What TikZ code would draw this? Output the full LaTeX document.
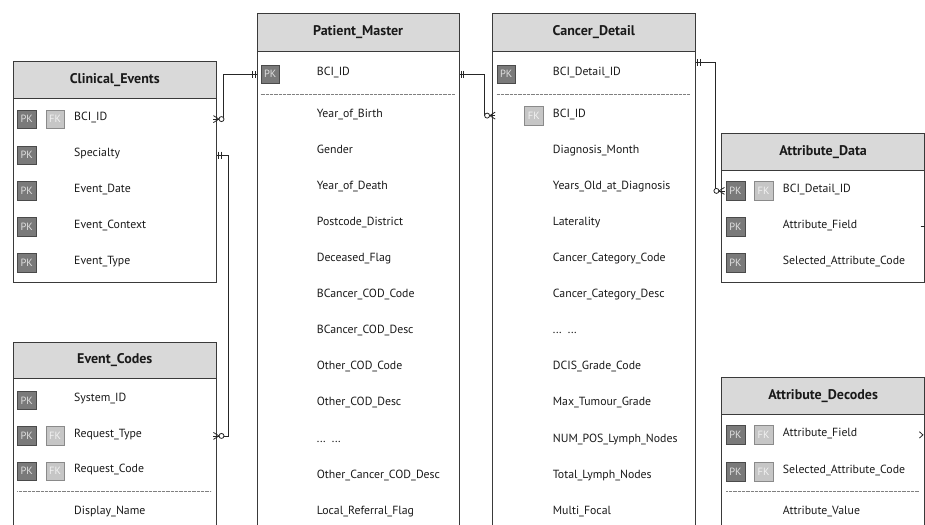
\documentclass[tikz,border=0pt]{standalone}
\usepackage{fontspec}
\setmainfont{PT Sans}
\usetikzlibrary{calc}
\definecolor{hdrfill}{HTML}{D9D9D9}
\definecolor{bord}{HTML}{3A3A3A}
\definecolor{pkfill}{HTML}{7A7A7A}
\definecolor{pkline}{HTML}{4A4A4A}
\definecolor{fkfill}{HTML}{C6C6C6}
\definecolor{fkline}{HTML}{8A8A8A}
\definecolor{txt}{HTML}{1A1A1A}
\newcommand\elidedrow{.\kern0.6pt.\kern0.6pt.\ \ .\kern0.6pt.\kern0.6pt.}
\tikzset{
  hdrbox/.style={draw=bord, fill=hdrfill, line width=0.9pt, anchor=north west,
    inner sep=0pt, font=\fontsize{14}{16}\selectfont\bfseries, text=txt},
  bodybox/.style={draw=bord, fill=white, line width=0.9pt, anchor=north west, inner sep=0pt},
  rowtext/.style={anchor=base west, inner sep=0pt, font=\fontsize{11.8}{14}\selectfont, text=txt},
  pkbadge/.style={draw=pkline, fill=pkfill, minimum size=18.5pt, inner sep=0pt,
    font=\fontsize{10.5}{11}\selectfont, text=white!88!black},
  fkbadge/.style={draw=fkline, fill=fkfill, minimum size=18.5pt, inner sep=0pt,
    font=\fontsize{10.5}{11}\selectfont, text=white!95!black},
  sepline/.style={draw=black!50, line width=0.5pt, dash pattern=on 0.5pt off 0.8pt},
  conn/.style={draw=black!85, line width=0.8pt},
  pics/zeromany/.style={code={
    \draw[conn] (-3.5,-3.5) -- (2,0) -- (-3.5,3.5);
    \draw[conn] (-3.5,0) -- (2,0);
    \draw[conn, fill=white] (4.6,0) circle[radius=2.5pt];}},
  pics/onlyone/.style={code={
    \draw[conn] (1.4,-3.5) -- (1.4,3.5) (4.2,-3.5) -- (4.2,3.5);}},
  pics/prongs/.style={code={
    \draw[conn] (-3.5,-3.2) -- (0,0) -- (-3.5,3.2);}}
}
\begin{document}
\begin{tikzpicture}[x=1pt, y=-1pt]
\useasboundingbox (0,0) rectangle (925,524);
\clip (0,0) rectangle (925,524);

% ---------------- Clinical_Events ----------------
\node[bodybox, minimum width=203.3pt, minimum height=184.6pt] (ce-b) at (12.7,97.7) {};
\node[hdrbox, minimum width=203.3pt, minimum height=37pt] (ce-h) at (12.7,60.7) {Clinical\_Events};
\foreach \t [count=\i] in {BCI\_ID, Specialty, Event\_Date, Event\_Context, Event\_Type} {
  \node[rowtext] (ce-r\i) at (74,{116.5+35.9*(\i-1)+4.2}) {\t};
  \node[pkbadge] (ce-p\i) at (26.7,{116.5+35.9*(\i-1)+2.6}) {PK};
}
\node[fkbadge] (ce-f1) at (55,119.1) {FK};

% ---------------- Event_Codes ----------------
\node[bodybox, minimum width=203.3pt, minimum height=200pt] (ec-b) at (12.7,378.3) {};
\node[hdrbox, minimum width=203.3pt, minimum height=36.6pt] (ec-h) at (12.7,341.7) {Event\_Codes};
\foreach \t/\yy [count=\i] in {System\_ID/397.7, Request\_Type/433.3, Request\_Code/468.6} {
  \node[rowtext] (ec-r\i) at (74,{\yy+4.2}) {\t};
  \node[pkbadge] (ec-p\i) at (26.7,{\yy+2.6}) {PK};
}
\node[fkbadge] (ec-f2) at (55,435.9) {FK};
\node[fkbadge] (ec-f3) at (55,471.2) {FK};
\coordinate (ec-s1) at (17.3,491.7);
\coordinate (ec-s2) at (211,491.7);
\draw[sepline] (ec-s1) -- (ec-s2);
\node[rowtext] (ec-r4) at (74,514.2) {Display\_Name};

% ---------------- Patient_Master ----------------
\node[bodybox, minimum width=202pt, minimum height=520pt] (pm-b) at (256.7,51) {};
\node[hdrbox, minimum width=202pt, minimum height=38.3pt] (pm-h) at (256.7,12.7) {Patient\_Master};
\node[rowtext] (pm-r0) at (316.7,75.9) {BCI\_ID};
\node[pkbadge] (pm-p0) at (270.2,74.2) {PK};
\coordinate (pm-s1) at (260.5,94.3);
\coordinate (pm-s2) at (455,94.3);
\draw[sepline] (pm-s1) -- (pm-s2);
\foreach \t [count=\i] in {Year\_of\_Birth, Gender, Year\_of\_Death, Postcode\_District,
  Deceased\_Flag, BCancer\_COD\_Code, BCancer\_COD\_Desc, Other\_COD\_Code,
  Other\_COD\_Desc, {\elidedrow}, Other\_Cancer\_COD\_Desc, Local\_Referral\_Flag} {
  \node[rowtext] (pm-r\i) at (316.7,{113.3+36.06*(\i-1)+4.2}) {\t};
}

% ---------------- Cancer_Detail ----------------
\node[bodybox, minimum width=203.3pt, minimum height=520pt] (cd-b) at (491.7,51) {};
\node[hdrbox, minimum width=203.3pt, minimum height=38.3pt] (cd-h) at (491.7,12.7) {Cancer\_Detail};
\node[rowtext] (cd-r0) at (552.7,75.9) {BCI\_Detail\_ID};
\node[pkbadge] (cd-p0) at (506.2,74.2) {PK};
\coordinate (cd-s1) at (496.7,94.3);
\coordinate (cd-s2) at (689.3,94.3);
\draw[sepline] (cd-s1) -- (cd-s2);
\foreach \t [count=\i] in {BCI\_ID, Diagnosis\_Month, Years\_Old\_at\_Diagnosis, Laterality,
  Cancer\_Category\_Code, Cancer\_Category\_Desc, {\elidedrow}, DCIS\_Grade\_Code,
  Max\_Tumour\_Grade, NUM\_POS\_Lymph\_Nodes, Total\_Lymph\_Nodes, Multi\_Focal} {
  \node[rowtext] (cd-r\i) at (552.7,{113.3+36.06*(\i-1)+4.2}) {\t};
}
\node[fkbadge] (cd-f1) at (533.8,115.6) {FK};

% ---------------- Attribute_Data ----------------
\node[bodybox, minimum width=203.3pt, minimum height=111.7pt] (ad-b) at (721,170) {};
\node[hdrbox, minimum width=203.3pt, minimum height=37.3pt] (ad-h) at (721,132.7) {Attribute\_Data};
\foreach \t/\yy [count=\i] in {BCI\_Detail\_ID/188.3, Attribute\_Field/224, Selected\_Attribute\_Code/260} {
  \node[rowtext] (ad-r\i) at (782.7,{\yy+4.2}) {\t};
  \node[pkbadge] (ad-p\i) at (735.5,{\yy+2.6}) {PK};
}
\node[fkbadge] (ad-f1) at (763.5,190.9) {FK};

% ---------------- Attribute_Decodes ----------------
\node[bodybox, minimum width=203.3pt, minimum height=150pt] (adc-b) at (721,414.3) {};
\node[hdrbox, minimum width=203.3pt, minimum height=37.6pt] (adc-h) at (721,376.7) {Attribute\_Decodes};
\foreach \t/\yy [count=\i] in {Attribute\_Field/432.3, Selected\_Attribute\_Code/469.3} {
  \node[rowtext] (adc-r\i) at (782.7,{\yy+4.2}) {\t};
  \node[pkbadge] (adc-p\i) at (735.5,{\yy+2.6}) {PK};
  \node[fkbadge] (adc-f\i) at (763.5,{\yy+2.6}) {FK};
}
\coordinate (adc-s1) at (726,491);
\coordinate (adc-s2) at (919.3,491);
\draw[sepline] (adc-s1) -- (adc-s2);
\node[rowtext] (adc-r3) at (782.7,514.2) {Attribute\_Value};

% ---------------- Connectors ----------------
\draw[conn] (ce-b.east |- ce-p1) -- ++(6,0) |- (pm-b.west |- pm-p0);
\pic at (ce-b.east |- ce-p1) {zeromany};
\pic[rotate=180] at (pm-b.west |- pm-p0) {onlyone};

\draw[conn] (ce-b.east |- ce-p2) -- ++(11.7,0) |- (ec-b.east |- ec-p2);
\pic at (ce-b.east |- ce-p2) {onlyone};
\pic at (ec-b.east |- ec-p2) {zeromany};

\draw[conn] (pm-b.east |- pm-p0) -- ++(24.6,0) |- (cd-b.west |- cd-f1);
\pic at (pm-b.east |- pm-p0) {onlyone};
\pic[rotate=180] at (cd-b.west |- cd-f1) {zeromany};

\coordinate (cd-out) at ($(cd-b.north east)+(0,11.3)$);
\draw[conn] (cd-out) -- ++(19,0) |- (ad-b.west |- ad-p1);
\pic at (cd-out) {onlyone};
\pic[rotate=180] at (ad-b.west |- ad-p1) {zeromany};

\coordinate (ad-stub) at ($(ad-b.east |- ad-p2)+(-4.5,0)$);
\draw[conn] (ad-stub) -- (ad-b.east |- ad-p2);
\coordinate (adc-stub) at ($(adc-b.east |- adc-p1)+(-2.3,0)$);
\pic at (adc-stub) {prongs};
\end{tikzpicture}
\end{document}
